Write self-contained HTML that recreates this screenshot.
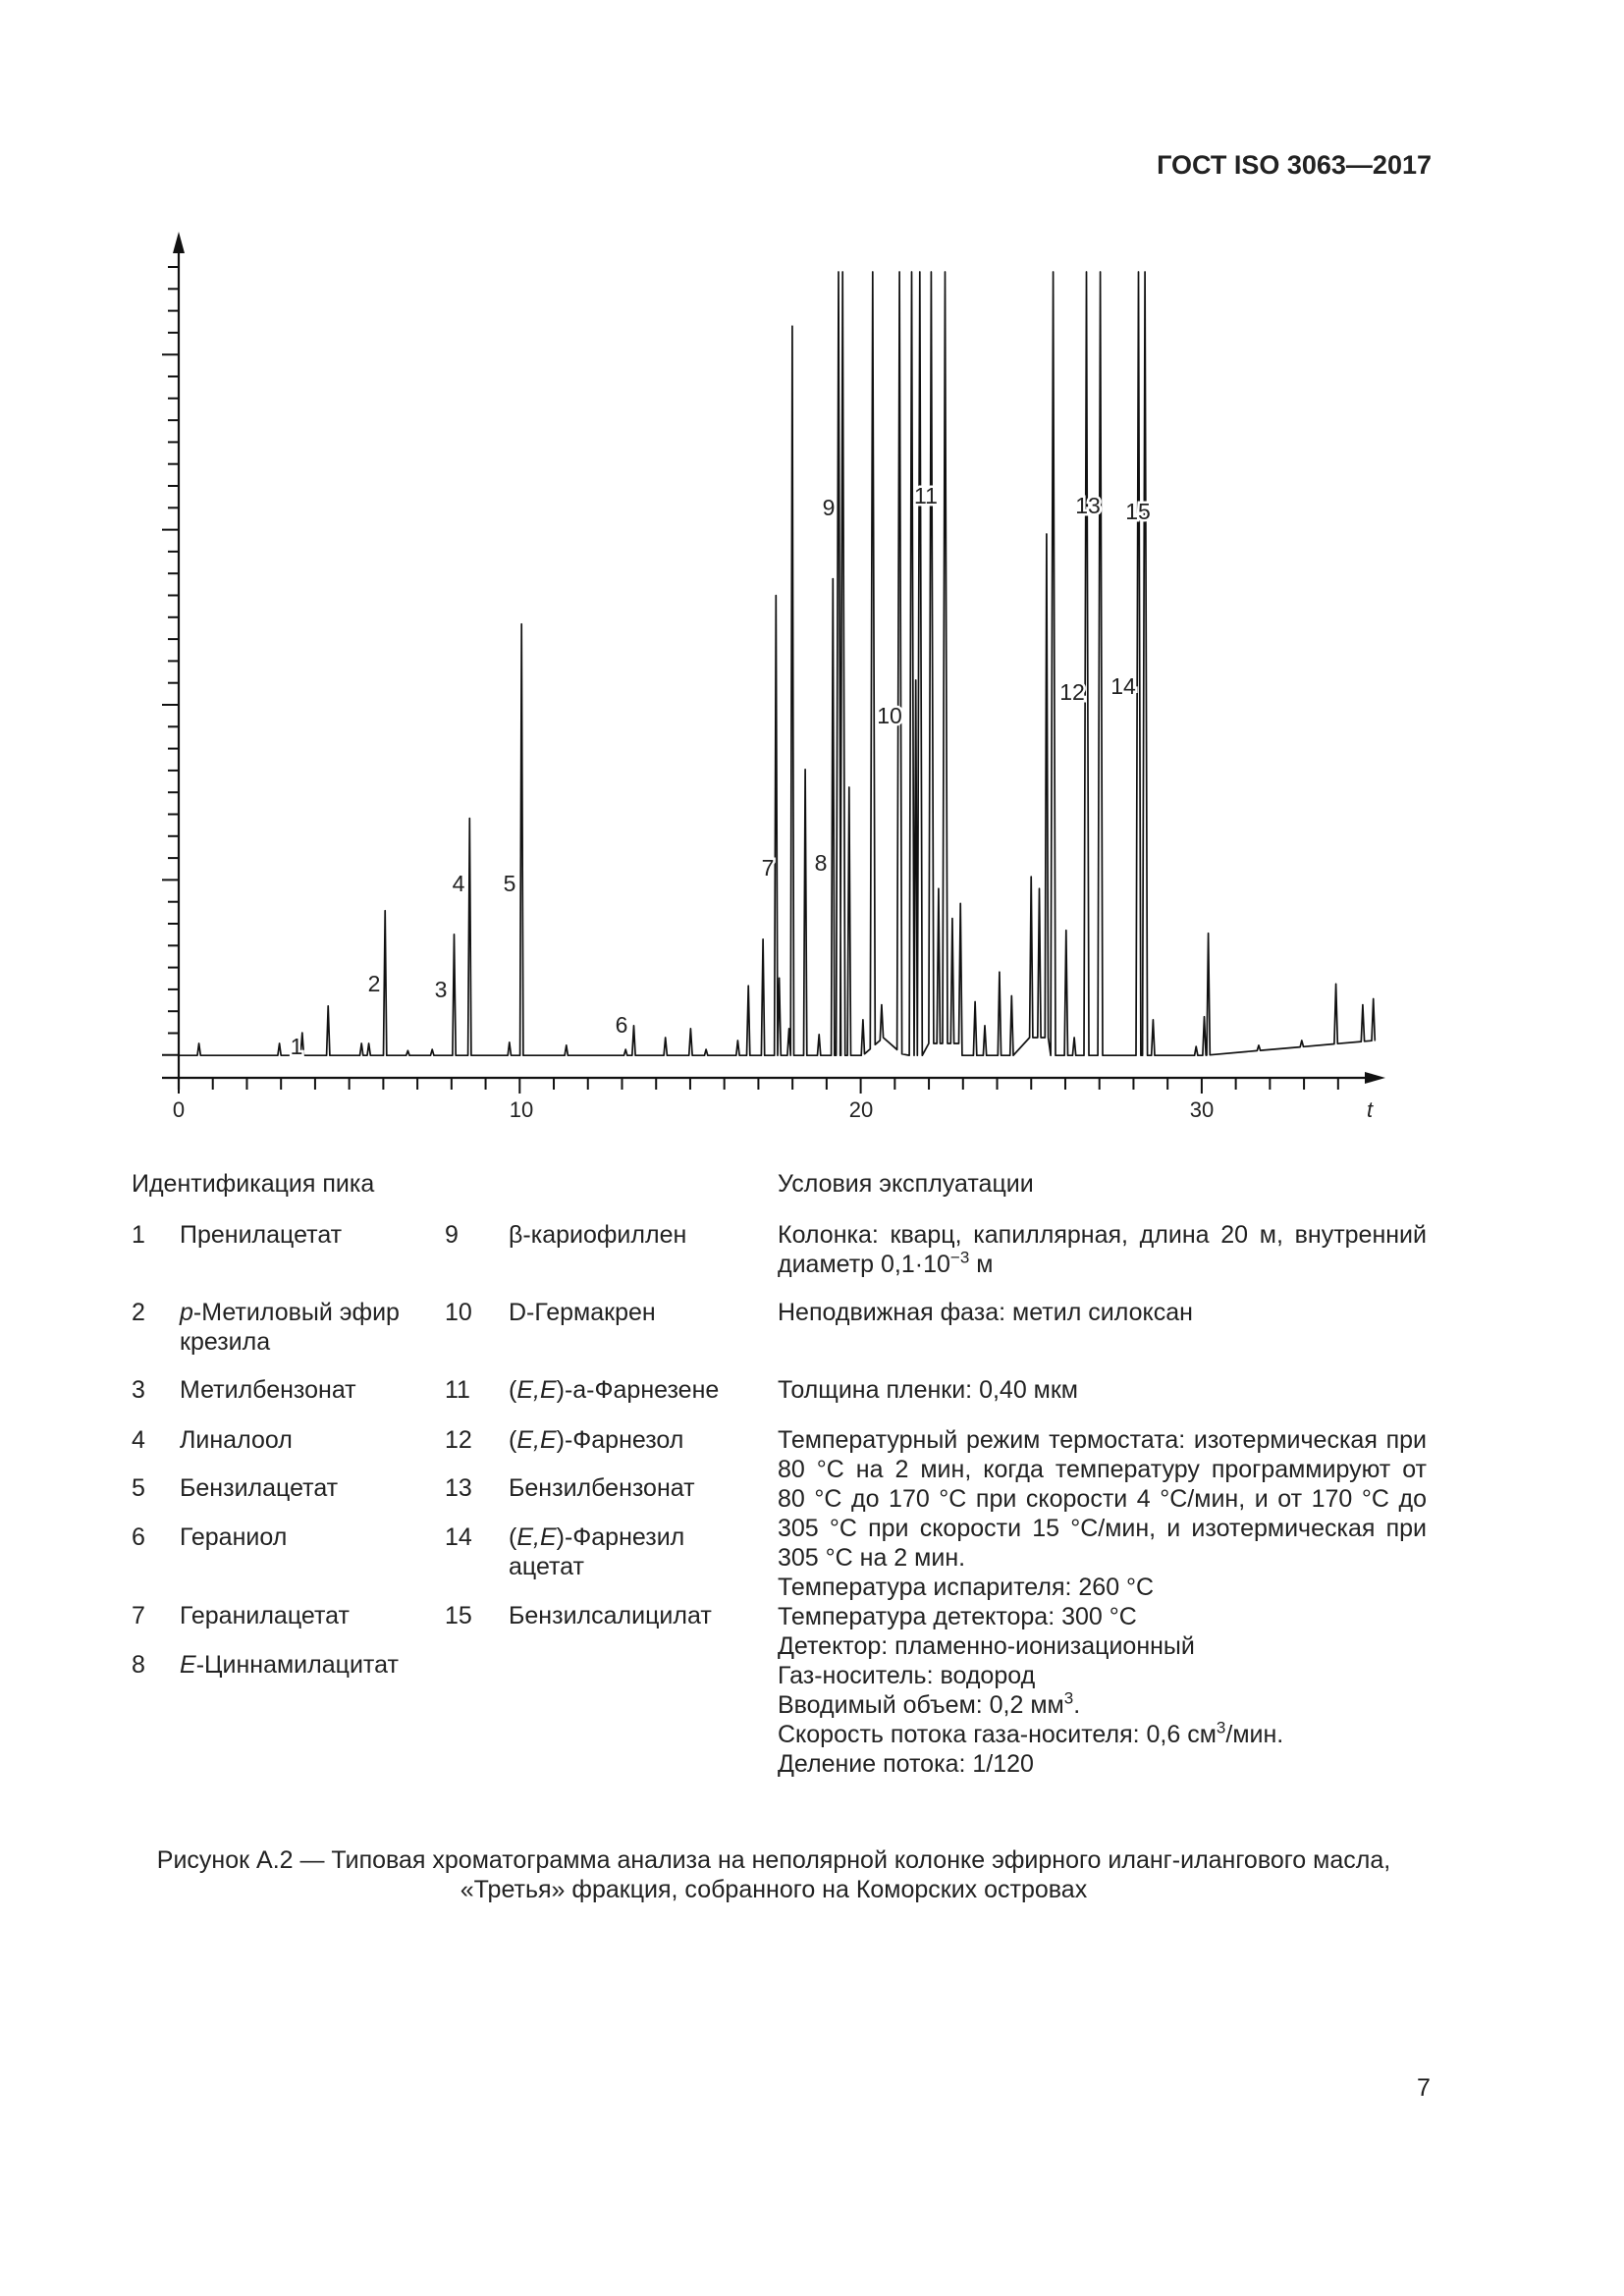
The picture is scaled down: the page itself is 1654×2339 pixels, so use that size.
<!DOCTYPE html>
<html><head><meta charset="utf-8"><style>
body{margin:0;background:#fff;}
#p{position:relative;width:1654px;height:2339px;background:#fff;font-family:"Liberation Sans",Arial,sans-serif;color:#222;overflow:hidden}
.t{position:absolute;font-size:25px;line-height:30px;white-space:nowrap}
.j{position:absolute;font-size:25px;line-height:30px;left:792px;width:661px;white-space:nowrap}
.l{text-align:justify;text-align-last:justify;white-space:normal}
sup{font-size:17px;line-height:0}
</style></head><body><div id="p">
<div class="t" style="right:196px;top:153px;font-weight:bold;font-size:27px">ГОСТ ISO 3063—2017</div>

<svg width="1654" height="1180" style="position:absolute;left:0;top:0">
<g stroke="#111" stroke-width="2.2" fill="none">
<line x1="182" y1="245" x2="182" y2="1110"/>
<line x1="165" y1="1098" x2="1398" y2="1098"/>
</g>
<polygon points="182,236 176,258 188,258" fill="#111"/>
<polygon points="1411,1098 1390,1092 1390,1104" fill="#111"/>
<g id="yt" stroke="#111" stroke-width="2"></g>
<g id="xt" stroke="#111" stroke-width="2"></g>
<path id="ch" stroke="#111" stroke-width="1.7" fill="none" stroke-linejoin="round"/>
<g font-family="Liberation Sans,Arial,sans-serif" font-size="22" fill="#222" text-anchor="middle">
<text x="182" y="1138">0</text><text x="531" y="1138">10</text><text x="877" y="1138">20</text><text x="1224" y="1138">30</text>
<text x="1395" y="1138" font-style="italic">t</text>
</g>
<g id="lb" font-family="Liberation Sans,Arial,sans-serif" font-size="23" fill="#222" text-anchor="middle" stroke="#fff" stroke-width="5" paint-order="stroke"></g>
</svg>

<div class="t" style="left:134px;top:1191px">Идентификация пика</div>
<div class="j" style="top:1191px">Условия эксплуатации</div>

<div class="t" style="left:134px;top:1243px">1</div><div class="t" style="left:183px;top:1243px">Пренилацетат</div>
<div class="t" style="left:453px;top:1243px">9</div><div class="t" style="left:518px;top:1243px">β-кариофиллен</div>
<div class="t" style="left:134px;top:1322px">2</div><div class="t" style="left:183px;top:1322px"><i>p</i>-Метиловый эфир<br>крезила</div>
<div class="t" style="left:453px;top:1322px">10</div><div class="t" style="left:518px;top:1322px">D-Гермакрен</div>
<div class="t" style="left:134px;top:1401px">3</div><div class="t" style="left:183px;top:1401px">Метилбензонат</div>
<div class="t" style="left:453px;top:1401px">11</div><div class="t" style="left:518px;top:1401px">(<i>E,E</i>)-a-Фарнезене</div>
<div class="t" style="left:134px;top:1452px">4</div><div class="t" style="left:183px;top:1452px">Линалоол</div>
<div class="t" style="left:453px;top:1452px">12</div><div class="t" style="left:518px;top:1452px">(<i>E,E</i>)-Фарнезол</div>
<div class="t" style="left:134px;top:1501px">5</div><div class="t" style="left:183px;top:1501px">Бензилацетат</div>
<div class="t" style="left:453px;top:1501px">13</div><div class="t" style="left:518px;top:1501px">Бензилбензонат</div>
<div class="t" style="left:134px;top:1551px">6</div><div class="t" style="left:183px;top:1551px">Гераниол</div>
<div class="t" style="left:453px;top:1551px">14</div><div class="t" style="left:518px;top:1551px">(<i>E,E</i>)-Фарнезил<br>ацетат</div>
<div class="t" style="left:134px;top:1631px">7</div><div class="t" style="left:183px;top:1631px">Геранилацетат</div>
<div class="t" style="left:453px;top:1631px">15</div><div class="t" style="left:518px;top:1631px">Бензилсалицилат</div>
<div class="t" style="left:134px;top:1681px">8</div><div class="t" style="left:183px;top:1681px"><i>E</i>-Циннамилацитат</div>

<div class="j" style="top:1243px"><div class="l">Колонка: кварц, капиллярная, длина 20 м, внутренний</div>диаметр 0,1·10<sup>−3</sup> м</div>
<div class="j" style="top:1322px">Неподвижная фаза: метил силоксан</div>
<div class="j" style="top:1401px">Толщина пленки: 0,40 мкм</div>
<div class="j" style="top:1452px"><div class="l">Температурный режим термостата: изотермическая при</div><div class="l">80 °С на 2 мин, когда температуру программируют от</div><div class="l">80 °С до 170 °С при скорости 4 °С/мин, и от 170 °С до</div><div class="l">305 °С при скорости 15 °С/мин, и изотермическая при</div>305 °С на 2 мин.<br>Температура испарителя: 260 °С<br>Температура детектора: 300 °С<br>Детектор: пламенно-ионизационный<br>Газ-носитель: водород<br>Вводимый объем: 0,2 мм<sup>3</sup>.<br>Скорость потока газа-носителя: 0,6 см<sup>3</sup>/мин.<br>Деление потока: 1/120</div>

<div class="t" style="left:0;width:1576px;text-align:center;top:1880px">Рисунок А.2 — Типовая хроматограмма анализа на неполярной колонке эфирного иланг-илангового масла,<br>«Третья» фракция, собранного на Коморских островах</div>
<div class="t" style="left:1443px;top:2112px">7</div>
</div>
<script>
var NS="http://www.w3.org/2000/svg";
function X(z){return 150.5+z*0.8277}function Y(z){return 219.3+z*0.607}
var yt=document.getElementById('yt');
for(var i=0;i<37;i++){var y=272+i*22.3;if(y>1090)break;var l=document.createElementNS(NS,'line');
var maj=(i%8==4);
l.setAttribute('x1',maj?165:171);l.setAttribute('x2',182);l.setAttribute('y1',y);l.setAttribute('y2',y);yt.appendChild(l);}
var xt=document.getElementById('xt');
for(var i=0;i<=34;i++){var x=182+i*34.73;var l=document.createElementNS(NS,'line');
l.setAttribute('x1',x);l.setAttribute('x2',x);l.setAttribute('y1',1098);l.setAttribute('y2',i%10==0?1114:1110);xt.appendChild(l);}
var C=95;
var pk=[[63,1390],[162,1390],[190,1372],[222,1327],[263,1390],[272,1390],[292,1167],[320,1402],[350,1400],[377,1207],[396,1012],[445,1388],[460,686],[515,1393],[588,1400],[598,1360],[637,1380],[668,1365],[687,1400],[726,1385],[739,1293],[757,1215],[773,638],[777,1280],[789,1365],[793,186],[809,930],[826,1375],[843,610],[850,C],[855,C],[863,960],[880,1350],[892,C],[903,1325],[925,C],[940,C],[945,780],[950,C],[964,C],[973,1130],[981,C],[990,1180],[1000,1155],[1018,1320],[1030,1360],[1048,1270],[1063,1310],[1087,1110],[1097,1130],[1106,535],[1114,C],[1130,1200],[1140,1380],[1155,C],[1172,C],[1219,C],[1227,C],[1237,1350],[1290,1395],[1300,1345],[1305,1205],[1367,1393],[1420,1385],[1462,1290],[1495,1325],[1508,1315]];
function base(z){var b=1410;if(z>1300)b=1410-(z-1300)*0.12;if(z>880&&z<930)b-=Math.min(z-880,930-z)*1.2;if(z>960&&z<1000)b-=20;if(z>1080&&z<1110)b-=30;return b;}
var d='M'+X(38)+' '+Y(1410);
pk.forEach(function(p){var z=p[0];var w=p[1]==C?3:2;d+=' L'+X(z-w).toFixed(1)+' '+Y(base(z-w)).toFixed(1)+' L'+X(z).toFixed(1)+' '+Y(p[1]).toFixed(1)+' L'+X(z+w).toFixed(1)+' '+Y(base(z+w)).toFixed(1);});
d+=' L'+X(1510)+' '+Y(base(1510));
document.getElementById('ch').setAttribute('d',d);
var lb=[["1",302,1066],["2",381,1002],["3",449,1008],["4",467,900],["5",519,900],["6",633,1044],["7",782,884],["8",836,879],["9",844,517],["10",906,729],["11",943,505],["12",1092,705],["13",1108,515],["14",1144,699],["15",1159,521]];
var g=document.getElementById('lb');
lb.forEach(function(a){var t=document.createElementNS(NS,'text');t.setAttribute('x',a[1]);t.setAttribute('y',a[2]+8);t.textContent=a[0];g.appendChild(t);});
</script>
</body></html>
